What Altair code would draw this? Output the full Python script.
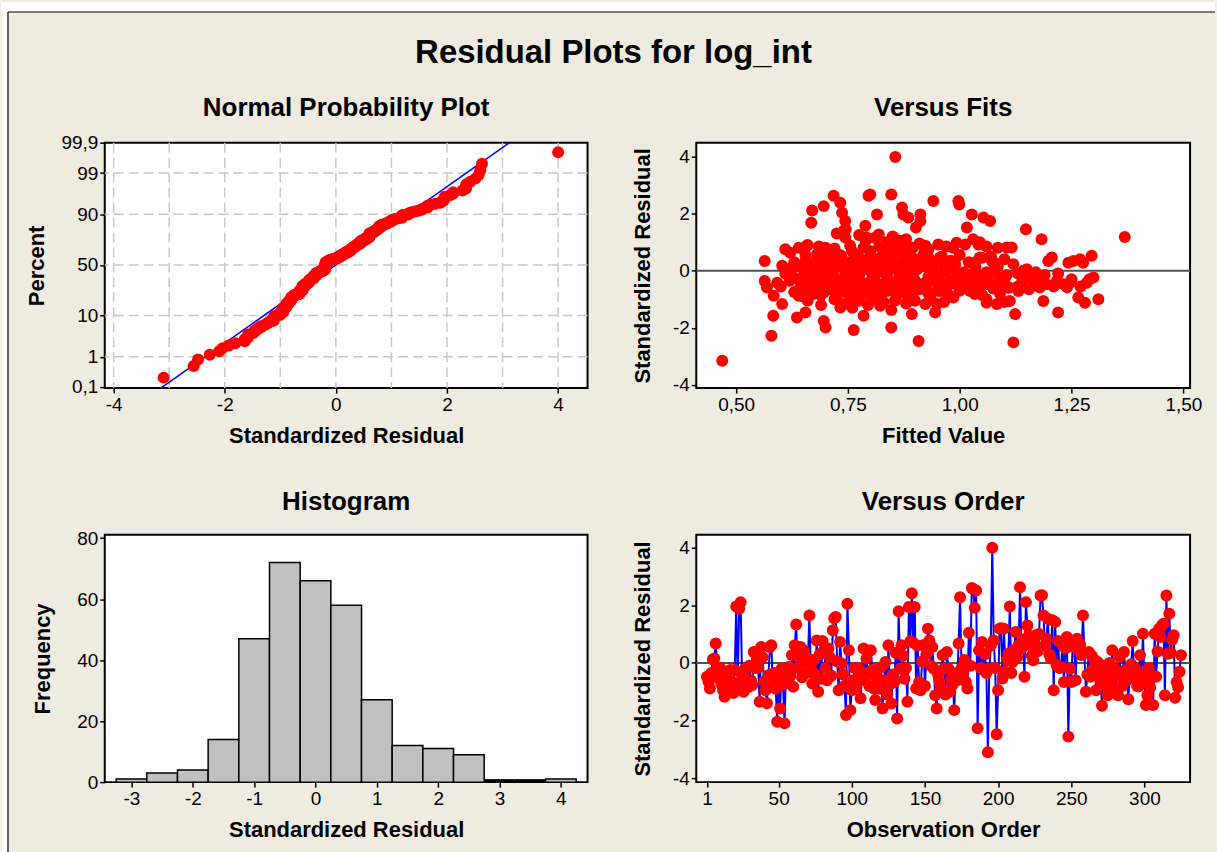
import altair as alt
import pandas as pd
from statistics import NormalDist

# ---------------- data ----------------
# standardized residuals in observation order (Versus Order panel)
order_resid = [
    -0.48, -0.65, -0.89, -0.35, 0.12, 0.15, 0.67, -0.20, -0.55, -0.18, -0.75, -0.95, -1.18, -0.60, -0.40, -0.85, -0.25, -0.65, -1.05, -0.25, 1.96, -0.80, 1.88, 2.11, -0.45,
    -1.00, -0.20, -0.55, -0.85, -0.10, -0.60, -0.77, 0.38, -0.18, 0.10, -0.15, -1.35, 0.55, 0.20, -0.65, -0.95, -1.40, -0.43, 0.55, 0.61, -0.80, -0.35, -0.90, -2.04, -0.50,
    -1.58, -0.20, -0.75, -2.10, -0.25, -0.60, -0.14, -0.45, 0.27, -0.83, 0.61, 1.33, -0.18, 0.20, 0.55, -0.50, 0.44, 0.05, -0.35, 0.15, 1.65, -0.20, -0.72, 0.10, -0.40,
    0.78, -1.00, 0.30, -0.55, 0.76, 0.44, -0.18, -0.60, 0.50, 0.20, -0.45, 1.13, 1.55, 1.59, 0.05, -0.95, 0.73, -0.02, -0.40, -0.80, -1.81, 2.05, 0.44, -1.64, -0.95,
    -0.60, -0.18, -0.85, -0.54, -0.20, -1.23, -0.45, 0.50, -0.60, 0.15, -0.35, -0.80, 0.44, -0.25, -0.89, -1.29, -0.50, -0.20, -0.90, -0.15, -1.58, -0.60, 0.03, -1.10, 0.61,
    -0.75, -1.41, -0.40, -0.66, 0.35, -1.93, 1.79, -0.20, 0.61, 0.25, -0.55, -0.18, -1.35, 1.94, 0.75, 2.42, 0.70, 1.94, -0.89, 0.60, -0.66, -0.95, 0.05, 0.61, -0.80,
    0.30, 1.19, 0.78, -0.10, 0.55, -0.20, -1.12, -1.58, -0.40, -0.66, -0.90, 0.27, -0.20, -1.10, 0.38, -0.20, -1.00, -0.55, -0.75, -1.64, -0.35, -0.60, 0.67, 2.28, -0.18,
    -0.37, 0.10, -0.66, -0.89, 1.05, -0.10, 2.60, 2.57, 1.91, 2.51, -2.27, 0.44, -0.18, 0.73, -0.25, 0.30, -0.35, -3.10, -0.20, 0.60, 4.00, 0.78, -0.18, -2.48, -0.95,
    1.19, 1.20, -0.54, 1.19, -0.31, 0.10, 0.32, 1.96, -0.35, 0.03, 0.45, 1.07, 0.20, 0.61, 2.63, 0.50, 0.80, -0.48, 2.11, 1.30, 0.95, 0.61, 0.25, 0.09, 0.70,
    0.96, 0.40, 1.00, 2.34, 2.35, 1.65, 0.60, 0.84, 1.53, 0.30, 0.15, 1.48, -0.95, 1.42, -0.08, 0.76, -0.18, -0.14, 0.60, -0.66, 0.50, 0.90, -2.56, -0.20, -0.66,
    0.70, 0.55, -0.60, 0.84, 0.45, 0.65, 0.27, 1.65, 0.35, -1.00, -0.40, 0.38, -0.48, 0.25, -0.20, 0.10, -0.95, 0.03, -0.35, -0.60, -1.49, -0.10, -0.31, -0.80, -1.12,
    0.00, -0.60, 0.44, -0.40, -0.20, -0.90, -1.12, 0.20, -0.48, -0.80, 0.38, -0.25, -0.60, -1.26, -0.35, -0.05, 0.76, -0.50, -0.20, -0.80, -0.82, 0.27, -0.40, 1.01, -0.60,
    -1.46, -1.12, -0.18, -0.85, -0.48, -1.46, 1.01, -0.48, 0.40, 1.19, 0.90, 1.30, 1.36, -1.12, 2.34, 0.32, 1.71, 0.35, 0.80, 0.96, -1.21, -0.66, -0.85, -0.31, 0.27,
]

# (fitted value, standardized residual) pairs (Versus Fits panel)
fits_points = [
    (0.469, -3.15), (0.564, 0.34), (0.564, -0.36), (0.569, -0.59), (0.584, -0.88), (0.592, -0.42),
    (0.583, -1.58), (0.579, -2.28), (0.603, -1.17), (0.603, 0.17), (0.610, 0.75), (0.621, 0.63),
    (0.625, 0.11), (0.629, -0.24), (0.636, -0.71), (0.636, -1.64), (0.640, -0.88), (0.655, -1.46),
    (0.658, 0.87), (0.655, 0.34), (0.658, -0.24), (0.668, 1.68), (0.670, 2.11), (0.670, -0.53),
    (0.673, -0.82), (0.681, 0.58), (0.692, 0.69), (0.696, 2.26), (0.696, -1.76), (0.700, -1.99),
    (0.696, -0.76), (0.700, 0.11), (0.707, 0.46), (0.714, -0.12), (0.718, 2.62), (0.733, 2.38),
    (0.737, 2.03), (0.744, 1.74), (0.740, 1.39), (0.744, 1.16), (0.733, -1.29), (0.737, 0.23),
    (0.729, 0.58), (0.722, -0.47), (0.752, 0.00), (0.755, -0.59), (0.759, 0.69), (0.759, -1.17),
    (0.763, -2.08), (0.767, -0.24), (0.774, 0.46), (0.777, -0.71), (0.785, -1.58), (0.789, 1.57),
    (0.792, 1.16), (0.796, 2.62), (0.800, 2.67), (0.800, 0.69), (0.804, -0.12), (0.807, -0.94),
    (0.811, -0.59), (0.815, 1.97), (0.819, 1.27), (0.822, 0.46), (0.822, -1.23), (0.830, 0.00),
    (0.833, -0.42), (0.841, 0.81), (0.847, 2.67), (0.847, -1.38), (0.847, -1.99), (0.852, 1.16),
    (0.856, 3.98), (0.856, -0.59), (0.863, 0.23), (0.867, 0.87), (0.871, 2.21), (0.874, 1.97),
    (0.878, 0.58), (0.882, -0.24), (0.885, 1.86), (0.885, -0.94), (0.893, -1.52), (0.897, 0.23),
    (0.902, 1.51), (0.908, -2.46), (0.912, 1.74), (0.912, 1.97), (0.915, -0.59), (0.923, -1.17),
    (0.923, 0.87), (0.930, 0.46), (0.934, -0.36), (0.941, 2.44), (0.945, -1.46), (0.952, 0.92),
    (0.956, -0.71), (0.949, -1.17), (0.953, -0.59), (0.956, 0.46), (0.967, 0.00), (0.986, -0.94),
    (0.990, -0.47), (0.993, 0.98), (0.997, 2.44), (0.999, 2.32), (1.005, -0.24), (1.012, 0.92),
    (1.016, 1.51), (1.027, 1.97), (1.023, -0.71), (1.034, -0.82), (1.042, 0.92), (1.045, 0.46),
    (1.053, 1.86), (1.068, 1.74), (1.060, -0.47), (1.060, -1.12), (1.072, 0.34), (1.075, 0.00),
    (1.083, -1.17), (1.083, -0.53), (1.090, -0.24), (1.105, 0.81), (1.109, -0.59), (1.116, 0.81),
    (1.112, -1.06), (1.120, -2.51), (1.124, -1.52), (1.120, 0.23), (1.131, -0.71), (1.142, 0.00),
    (1.148, 1.45), (1.161, -0.24), (1.165, -0.47), (1.179, -0.59), (1.183, 1.10), (1.187, -1.06),
    (1.194, -0.47), (1.198, 0.34), (1.206, 0.46), (1.217, -0.36), (1.220, -1.46), (1.232, -0.47),
    (1.243, 0.28), (1.247, -0.42), (1.254, 0.34), (1.265, -0.94), (1.269, 0.40), (1.276, 0.28),
    (1.280, -1.12), (1.284, -0.42), (1.295, 0.52), (1.299, -0.24), (1.310, -1.00), (1.369, 1.18),
    # dense central cloud
    (0.655, 0.55), (0.680, 0.40), (0.700, 0.62), (0.715, 0.35), (0.735, 0.52), (0.750, 0.30),
    (0.765, 0.58), (0.780, 0.38), (0.800, 0.55), (0.815, 0.30), (0.830, 0.60), (0.845, 0.42),
    (0.860, 0.65), (0.875, 0.35), (0.890, 0.55), (0.905, 0.38), (0.920, 0.60), (0.940, 0.30),
    (0.960, 0.50), (0.980, 0.35), (1.000, 0.55), (1.020, 0.30), (1.050, 0.45), (1.070, 0.50),
    (1.100, 0.40),
    (0.640, 0.15), (0.660, 0.05), (0.675, 0.20), (0.690, -0.05), (0.705, 0.18), (0.720, 0.05),
    (0.740, 0.15), (0.755, -0.05), (0.770, 0.20), (0.785, 0.05), (0.800, 0.15), (0.815, -0.05),
    (0.830, 0.22), (0.845, 0.05), (0.860, 0.15), (0.875, -0.05), (0.890, 0.10), (0.905, 0.05),
    (0.925, 0.15), (0.945, -0.05), (0.965, 0.20), (0.985, 0.10), (1.010, -0.05), (1.035, 0.12),
    (1.060, -0.05), (1.085, 0.15), (1.130, -0.10), (1.150, 0.05), (1.170, -0.05),
    (0.620, -0.35), (0.645, -0.45), (0.665, -0.30), (0.685, -0.40), (0.700, -0.25), (0.720, -0.45),
    (0.735, -0.30), (0.750, -0.40), (0.770, -0.28), (0.790, -0.45), (0.805, -0.30), (0.820, -0.50),
    (0.840, -0.30), (0.855, -0.45), (0.870, -0.30), (0.885, -0.50), (0.900, -0.35), (0.920, -0.45),
    (0.940, -0.30), (0.960, -0.45), (0.980, -0.30), (1.000, -0.40), (1.020, -0.30), (1.040, -0.45),
    (1.065, -0.35), (1.100, -0.40), (1.140, -0.35), (1.180, -0.30), (1.250, -0.30), (1.290, -0.30),
    (0.630, -0.75), (0.650, -0.90), (0.675, -0.70), (0.690, -0.85), (0.710, -0.65), (0.725, -0.90),
    (0.745, -0.75), (0.760, -0.85), (0.775, -0.65), (0.790, -0.80), (0.810, -0.70), (0.825, -0.85),
    (0.840, -0.70), (0.860, -0.85), (0.875, -0.70), (0.895, -0.80), (0.910, -0.65), (0.930, -0.80),
    (0.950, -0.70), (0.975, -0.85), (1.000, -0.70), (1.030, -0.65), (1.050, -0.85), (1.090, -0.80),
    (1.110, -0.60),
    (0.660, -1.05), (0.690, -1.20), (0.720, -1.00), (0.745, -1.15), (0.760, -1.30), (0.775, -1.05),
    (0.795, -1.20), (0.810, -1.00), (0.830, -1.10), (0.855, -1.05), (0.880, -1.15), (0.900, -1.05),
    (0.935, -1.00), (0.965, -1.10), (1.060, -1.00), (1.100, -1.10),
    (0.660, 0.90), (0.700, 0.80), (0.725, 1.30), (0.745, 1.45), (0.775, 1.25), (0.790, 1.05),
    (0.810, 1.15), (0.835, 1.00), (0.850, 1.20), (0.865, 1.05), (0.880, 1.10), (0.895, 0.80),
    (0.910, 0.95), (0.970, 0.85), (1.030, 1.10), (1.045, 1.00),
    (0.630, 0.30), (0.690, 0.28), (0.725, 0.25), (0.760, 0.32), (0.790, 0.25), (0.825, 0.35),
    (0.855, 0.28), (0.885, 0.30), (0.915, 0.25), (0.950, 0.32), (0.990, 0.22), (1.035, 0.30),
    (1.080, 0.25),
    (0.610, -0.10), (0.650, -0.20), (0.680, -0.15), (0.710, -0.20), (0.745, -0.12), (0.775, -0.18),
    (0.810, -0.20), (0.835, -0.12), (0.865, -0.18), (0.895, -0.15), (0.930, -0.20), (0.955, -0.15),
    (0.995, -0.18), (1.030, -0.10), (1.050, -0.20), (1.105, -0.15), (1.190, -0.15), (1.220, -0.10),
    (0.600, -0.55), (0.655, -0.60), (0.680, -0.55), (0.705, -0.60), (0.730, -0.55), (0.765, -0.60),
    (0.785, -0.55), (0.815, -0.62), (0.845, -0.55), (0.870, -0.60), (0.900, -0.55), (0.925, -0.62),
    (0.970, -0.60), (1.010, -0.55), (1.045, -0.60), (1.075, -0.62), (1.130, -0.55), (1.155, -0.65),
    (1.210, -0.55), (1.240, -0.58), (1.270, -0.55),
    (0.640, 0.80), (0.685, 0.85), (0.720, 0.78), (0.755, 0.88), (0.785, 0.80), (0.820, 0.85),
    (0.855, 0.90), (0.885, 0.78), (0.930, 0.75), (0.985, 0.80), (1.060, 0.85), (1.085, 0.80),
]

# histogram (bin centres, counts)
hist_mid = [-3.0, -2.5, -2.0, -1.5, -1.0, -0.5, 0.0, 0.5, 1.0, 1.5, 2.0, 2.5, 3.0, 3.5, 4.0]
hist_count = [1, 3, 4, 14, 47, 72, 66, 58, 27, 12, 11, 9, 0, 0, 1]
hist_width = 0.5

# normal probability plot axis & fitted line
npp_pct_ticks = [0.1, 1, 10, 50, 90, 99, 99.9]
npp_pct_labels = ["0,1", "1", "10", "50", "90", "99", "99,9"]
npp_grid_pct = [1, 10, 50, 90, 99]
npp_grid_x = [-4, -3, -2, -1, 0, 1, 2, 3, 4]
npp_line_mean = 0.0
npp_line_sd = 1.01

# ---------------- styling ----------------
BG = "#EFEBE1"
RED = "#FF0000"
BLUE = "#0000FF"
GRID = "#C8C8C8"
TITLE_FONT = "Liberation Sans"
LABEL_FONT = "Liberation Sans"
DOT = 144

W1, H1 = 484, 246
W2, H2 = 495, 246
W3, H3 = 484, 248
W4, H4 = 495, 248

nd = NormalDist()

# ---------------- derived tables ----------------
n = len(order_resid)
sorted_res = sorted(order_resid)
npp_df = pd.DataFrame({
    "resid": sorted_res,
    "z": [nd.inv_cdf((i + 0.7) / (n + 0.4)) for i in range(n)],
})
tick_z = [nd.inv_cdf(p / 100.0) for p in npp_pct_ticks]
expr = ""
for k in range(len(tick_z) - 1):
    mid = (tick_z[k] + tick_z[k + 1]) / 2
    expr += f"datum.value < {mid:.4f} ? '{npp_pct_labels[k]}' : "
expr += f"'{npp_pct_labels[-1]}'"

Z_LO, Z_HI = -3.12, 3.095
line_df = pd.DataFrame({"z": [Z_LO, Z_HI]})
line_df["resid"] = npp_line_mean + npp_line_sd * line_df["z"]
gridx_df = pd.DataFrame({"resid": npp_grid_x})
gridy_df = pd.DataFrame({"z": [nd.inv_cdf(p / 100.0) for p in npp_grid_pct]})

fits_df = pd.DataFrame(fits_points, columns=["f", "r"])
order_df = pd.DataFrame({"obs": list(range(1, n + 1)), "resid": order_resid})
hist_df = pd.DataFrame({
    "left": [m - hist_width / 2 for m in hist_mid],
    "right": [m + hist_width / 2 for m in hist_mid],
    "count": hist_count,
})
hist_empty = hist_df[hist_df["count"] == 0]
one = pd.DataFrame({"k": [0]})

NUM = "'' + datum.value"


def xaxis(title, values, label_expr=NUM):
    return alt.Axis(title=title, values=values, labelExpr=label_expr,
                    minExtent=24, maxExtent=24, titlePadding=14)


def yaxis(title, values, label_expr=NUM, extent=26, pad=16):
    return alt.Axis(title=title, values=values, labelExpr=label_expr,
                    minExtent=extent, maxExtent=extent, titlePadding=pad)


def subtitle(text, width, y):
    return alt.Chart(pd.DataFrame({"t": [text]})).mark_text(
        font=TITLE_FONT, fontSize=26, fontWeight="bold", color="black",
        align="center", baseline="alphabetic"
    ).encode(x=alt.value(width / 2), y=alt.value(y), text="t:N")


# ---------------- panel 1: normal probability plot ----------------
X1 = alt.X("resid:Q", scale=alt.Scale(domain=[-4.16, 4.53], nice=False, zero=False),
           axis=xaxis("Standardized Residual", [-4, -2, 0, 2, 4]))
Y1 = alt.Y("z:Q", scale=alt.Scale(domain=[Z_LO, Z_HI], nice=False, zero=False),
           axis=yaxis("Percent", tick_z, expr, extent=40, pad=16))

p1_gridx = alt.Chart(gridx_df).mark_rule(color=GRID, strokeDash=[10, 5], strokeWidth=1.5).encode(x=X1)
p1_gridy = alt.Chart(gridy_df).mark_rule(color=GRID, strokeDash=[10, 5], strokeWidth=1.5).encode(y=Y1)
p1_line = alt.Chart(line_df).mark_line(color=BLUE, strokeWidth=1.5).encode(x=X1, y=Y1)
p1_pts = alt.Chart(npp_df).mark_circle(size=DOT, color=RED, opacity=1).encode(x=X1, y=Y1)

# figure frame pieces (drawn from panel 1, relative to its plot origin at 104,141)
white_left = alt.Chart(one).mark_rect(color="white").encode(
    x=alt.value(-104), x2=alt.value(-97), y=alt.value(-141), y2=alt.value(711))
white_top = alt.Chart(one).mark_rect(color="white").encode(
    x=alt.value(-104), x2=alt.value(1113), y=alt.value(-141), y2=alt.value(-131))
border_left = alt.Chart(one).mark_rule(color="black", strokeWidth=1.2).encode(
    x=alt.value(-97), y=alt.value(-131), y2=alt.value(711))
border_top = alt.Chart(one).mark_rule(color="black", strokeWidth=1.2).encode(
    x=alt.value(-97), x2=alt.value(1113), y=alt.value(-131))
main_title = alt.Chart(pd.DataFrame({"t": ["Residual Plots for log_int"]})).mark_text(
    font=TITLE_FONT, fontSize=33, fontWeight="bold", color="black",
    align="center", baseline="alphabetic"
).encode(x=alt.value(510), y=alt.value(-80), text="t:N")

panel1 = alt.layer(
    white_left, white_top, border_left, border_top, main_title,
    p1_gridx, p1_gridy, p1_line, p1_pts,
    subtitle("Normal Probability Plot", W1, -27),
).properties(width=W1, height=H1)

# ---------------- panel 2: versus fits ----------------
X2 = alt.X("f:Q", scale=alt.Scale(domain=[0.411, 1.515], nice=False, zero=False),
           axis=xaxis("Fitted Value", [0.5, 0.75, 1.0, 1.25, 1.5],
                      "replace(format(datum.value, '.2f'), '.', ',')"))
Y2 = alt.Y("r:Q", scale=alt.Scale(domain=[-4.11, 4.48], nice=False, zero=False),
           axis=yaxis("Standardized Residual", [-4, -2, 0, 2, 4]))
p2_zero = alt.Chart(pd.DataFrame({"r": [0]})).mark_rule(color="#505050", strokeWidth=2).encode(y=Y2)
p2_pts = alt.Chart(fits_df).mark_circle(size=DOT, color=RED, opacity=1).encode(x=X2, y=Y2)
panel2 = alt.layer(p2_zero, p2_pts, subtitle("Versus Fits", W2, -27)).properties(width=W2, height=H2)

# ---------------- panel 3: histogram ----------------
X3 = alt.X("left:Q", scale=alt.Scale(domain=[-3.436, 4.435], nice=False, zero=False),
           axis=xaxis("Standardized Residual", [-3, -2, -1, 0, 1, 2, 3, 4]))
Y3 = alt.Y("count:Q", scale=alt.Scale(domain=[0, 81.1], nice=False),
           axis=yaxis("Frequency", [0, 20, 40, 60, 80], extent=34, pad=16))
p3_bars = alt.Chart(hist_df).mark_rect(fill="#C0C0C0", stroke="black", strokeWidth=1.5).encode(
    x=X3, x2="right:Q", y=Y3, y2=alt.datum(0))
# empty bins: Minitab draws them as a flat black outline on the baseline
p3_empty = alt.Chart(hist_empty).mark_rule(color="black", strokeWidth=3, yOffset=-1.5).encode(
    x=X3, x2="right:Q", y=Y3)
panel3 = alt.layer(p3_bars, p3_empty, subtitle("Histogram", W3, -25)).properties(width=W3, height=H3)

# ---------------- panel 4: versus order ----------------
X4 = alt.X("obs:Q", scale=alt.Scale(domain=[-6.3, 331.2], nice=False, zero=False),
           axis=xaxis("Observation Order", [1, 50, 100, 150, 200, 250, 300]))
Y4 = alt.Y("resid:Q", scale=alt.Scale(domain=[-4.14, 4.45], nice=False, zero=False),
           axis=yaxis("Standardized Residual", [-4, -2, 0, 2, 4]))
p4_zero = alt.Chart(pd.DataFrame({"resid": [0]})).mark_rule(color="#505050", strokeWidth=2).encode(y=Y4)
p4_line = alt.Chart(order_df).mark_line(color=BLUE, strokeWidth=2).encode(x=X4, y=Y4)
p4_pts = alt.Chart(order_df).mark_circle(size=DOT, color=RED, opacity=1).encode(x=X4, y=Y4)
panel4 = alt.layer(p4_zero, p4_line, p4_pts, subtitle("Versus Order", W4, -25)).properties(width=W4, height=H4)

chart = alt.concat(
    panel1, panel2, panel3, panel4, columns=2,
    spacing={"row": 147, "column": 109}, bounds="flush",
    padding=0, background=BG,
).configure_view(
    fill="white", stroke="black", strokeWidth=2
).configure_axis(
    labelFont=LABEL_FONT, labelFontSize=19, labelColor="black", labelPadding=2,
    labelFlush=False, labelOverlap=False,
    titleFont=TITLE_FONT, titleFontSize=22, titleFontWeight="bold", titleColor="black",
    tickColor="black", tickSize=5, tickWidth=1.5, domain=False, grid=False,
)

chart.save("out.html", embed_options={"renderer": "svg", "actions": False})
